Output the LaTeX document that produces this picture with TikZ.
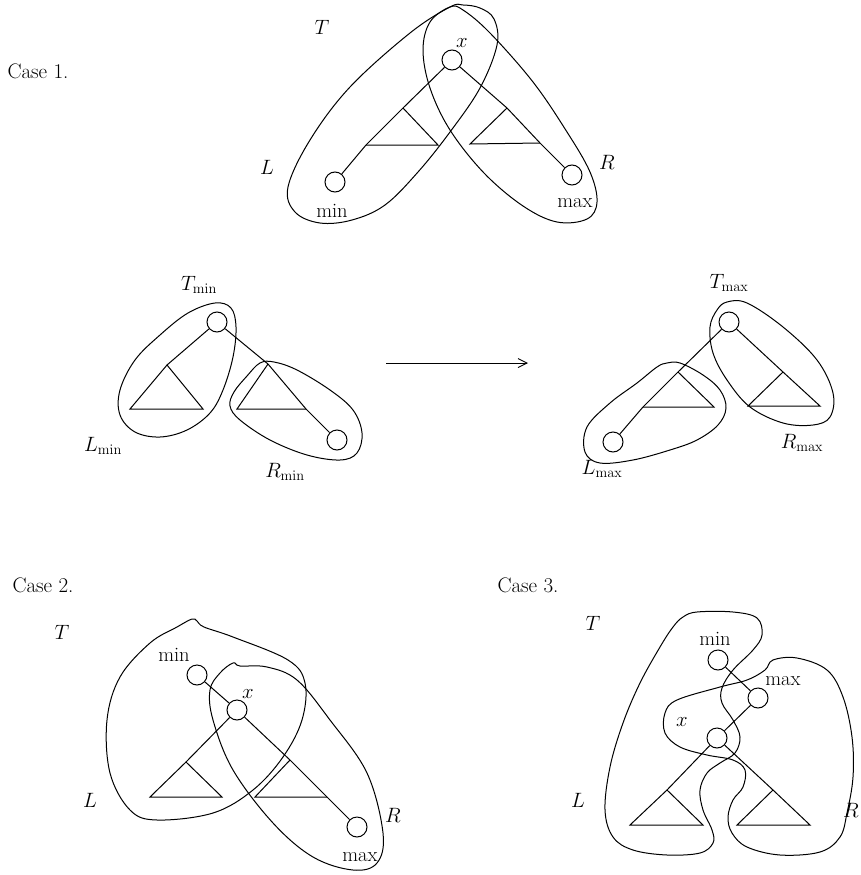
\documentclass[tikz,border=0pt]{standalone}
\usetikzlibrary{arrows.meta}
\begin{document}
\begin{tikzpicture}[x=1pt,y=-1pt,
  every node/.style={font=\fontsize{20.5}{24}\selectfont},
  vert/.style={draw,circle,minimum size=20pt,inner sep=0pt,line width=1pt},
  edge/.style={line width=1pt},
  sub/.style={line width=1pt},
  blob/.style={line width=1pt,smooth cycle,tension=0.6},
  lab/.style={inner sep=0pt},
  caselab/.style={inner sep=0pt,font=\fontsize{21}{25}\selectfont}]
\useasboundingbox (0,0) rectangle (860,875);

% ---------------- Case 1 ----------------
\node[caselab] (c1) at (38,71) {Case 1.};
\node[lab] (T1) at (322,27) {$T$};
\node[lab] (L1) at (267,167) {$L$};
\node[lab] (R1) at (607,162) {$R$};
\node[vert] (x1) at (452,60) {};
\node[lab] (x1l) at (462,43) {$x$};
\node[vert] (min1) at (335,182) {};
\node[lab] (min1l) at (332,211) {min};
\node[vert] (max1) at (572,175) {};
\node[lab] (max1l) at (575,203) {max};
\coordinate (a1l) at (403,108); \coordinate (b1l) at (366,145); \coordinate (c1l) at (438,145);
\coordinate (a1r) at (507,108); \coordinate (b1r) at (470,144); \coordinate (c1r) at (540,143);
\draw[edge] (x1) -- (a1l) -- (b1l) -- (min1);
\draw[edge] (x1) -- (a1r) -- (c1r) -- (max1);
\draw[sub] (a1l) -- (c1l) -- (b1l);
\draw[sub] (a1r) -- (b1r) -- (c1r);
\draw[blob] plot coordinates {(450,7) (410,33) (350,87) (310,140) (288,187) (295,212) (320,223) (352,220) (385,205) (418,172) (450,132) (480,88) (497,45) (494,19) (480,8) (463,5)};
\draw[blob] plot coordinates {(450,7) (430,22) (423,50) (430,88) (450,130) (484,173) (523,206) (557,222) (587,219) (597,202) (590,172) (567,132) (533,82) (490,33) (463,10)};

% ---------------- middle left ----------------
\node[lab] (Tmin) at (199,285) {$T_{\mathrm{min}}$};
\node[lab] (Lmin) at (103,446) {$L_{\mathrm{min}}$};
\node[lab] (Rmin) at (285,472) {$R_{\mathrm{min}}$};
\node[vert] (r2) at (217,322) {};
\node[vert] (m2) at (337,440) {};
\coordinate (a2l) at (167,365); \coordinate (b2l) at (130,409); \coordinate (c2l) at (203,409);
\coordinate (a2r) at (268,364); \coordinate (b2r) at (237,409); \coordinate (c2r) at (306,409);
\draw[edge] (r2) -- (a2l);
\draw[edge] (r2) -- (a2r) -- (c2r) -- (m2);
\draw[sub] (a2l) -- (b2l) -- (c2l) -- cycle;
\draw[sub] (a2r) -- (b2r) -- (c2r);
\draw[blob] plot coordinates {(215,303) (231,308) (236,327) (233,357) (223,390) (210,413) (187,430) (160,437) (135,432) (120,415) (120,390) (135,360) (160,335) (188,313)};
\draw[blob] plot coordinates {(260,363) (274,362) (297,370) (330,390) (353,410) (362,433) (357,453) (340,460) (307,455) (270,440) (240,420) (230,406) (234,392) (247,376)};

% arrow
\coordinate (ar1) at (386,363);
\coordinate (ar2) at (528,363);
\draw[line width=0.9pt,-{Straight Barb[length=9pt,width=9pt]}] (ar1) -- (ar2);

% ---------------- middle right ----------------
\node[lab] (Tmax) at (729,283) {$T_{\mathrm{max}}$};
\node[lab] (Lmax) at (602,469) {$L_{\mathrm{max}}$};
\node[lab] (Rmax) at (802,443) {$R_{\mathrm{max}}$};
\node[vert] (r3) at (729,322) {};
\node[vert] (m3) at (613,442) {};
\coordinate (a3l) at (678,372); \coordinate (b3l) at (643,407); \coordinate (c3l) at (714,407);
\coordinate (a3r) at (783,372); \coordinate (b3r) at (748,406); \coordinate (c3r) at (820,406);
\draw[edge] (r3) -- (a3l) -- (b3l) -- (m3);
\draw[edge] (r3) -- (a3r);
\draw[sub] (a3l) -- (c3l) -- (b3l);
\draw[sub] (a3r) -- (b3r) -- (c3r) -- cycle;
\draw[blob] plot coordinates {(727,302) (747,303) (783,327) (817,360) (833,393) (830,417) (813,425) (783,423) (750,407) (727,380) (713,353) (710,327) (717,310)};
\draw[blob] plot coordinates {(667,363) (680,363) (703,375) (720,390) (726,408) (718,425) (697,440) (670,450) (633,460) (600,463) (585,452) (587,427) (610,403) (637,383) (657,367)};

% ---------------- Case 2 ----------------
\node[caselab] (c2) at (43,585) {Case 2.};
\node[lab] (T2) at (62,632) {$T$};
\node[lab] (L2) at (90,800) {$L$};
\node[lab] (R2) at (393,815) {$R$};
\node[vert] (min2) at (197,675) {};
\node[lab] (min2l) at (174,655) {min};
\node[vert] (x2) at (237,710) {};
\node[lab] (x2l) at (248,694) {$x$};
\node[vert] (max2) at (357,827) {};
\node[lab] (max2l) at (360,857) {max};
\coordinate (a4l) at (186,762); \coordinate (b4l) at (150,797); \coordinate (c4l) at (222,797);
\coordinate (a4r) at (290,760); \coordinate (b4r) at (255,797); \coordinate (c4r) at (327,797);
\draw[edge] (min2) -- (x2);
\draw[edge] (x2) -- (a4l);
\draw[edge] (x2) -- (a4r) -- (c4r) -- (max2);
\draw[sub] (a4l) -- (b4l) -- (c4l) -- cycle;
\draw[sub] (a4r) -- (b4r) -- (c4r);
\draw[blob] plot coordinates {(197,621) (204,627) (233,637) (288,660) (305,683) (302,720) (283,757) (253,790) (213,813) (157,820) (130,810) (110,773) (107,720) (120,677) (150,643) (177,627) (192,619)};
\draw[blob] plot coordinates {(233,663) (240,666) (267,667) (297,680) (330,720) (367,773) (383,833) (377,863) (353,870) (313,857) (273,823) (233,770) (213,720) (210,690) (220,673)};

% ---------------- Case 3 ----------------
\node[caselab] (c3) at (528,585) {Case 3.};
\node[lab] (T3) at (593,623) {$T$};
\node[lab] (L3) at (578,800) {$L$};
\node[lab] (R3) at (851,810) {$R$};
\node[vert] (min3) at (718,660) {};
\node[lab] (min3l) at (715,639) {min};
\node[vert] (max3) at (758,698) {};
\node[lab] (max3l) at (783,681) {max};
\node[vert] (x3) at (717,738) {};
\node[lab] (x3l) at (682,722) {$x$};
\coordinate (a5l) at (667,790); \coordinate (b5l) at (630,825); \coordinate (c5l) at (703,825);
\coordinate (a5r) at (773,790); \coordinate (b5r) at (737,825); \coordinate (c5r) at (810,825);
\draw[edge] (min3) -- (max3);
\draw[edge] (max3) -- (x3);
\draw[edge] (x3) -- (a5l);
\draw[edge] (x3) -- (a5r);
\draw[sub] (a5l) -- (b5l) -- (c5l) -- cycle;
\draw[sub] (a5r) -- (b5r) -- (c5r) -- cycle;
\draw[blob] plot coordinates {(683,617) (697,612) (733,612) (757,618) (762,635) (753,650) (733,670) (722,688) (722,703) (733,720) (740,737) (735,753) (720,763) (707,773) (700,790) (703,810) (712,830) (713,843) (700,853) (667,855) (633,850) (613,837) (605,810) (610,767) (623,723) (640,683) (660,647) (673,627)};
\draw[blob] plot coordinates {(677,700) (720,687) (747,680) (765,670) (773,660) (797,658) (827,670) (843,697) (852,737) (853,777) (847,813) (840,837) (820,852) (780,855) (747,847) (732,833) (728,817) (733,800) (743,787) (745,770) (733,760) (707,755) (680,747) (665,733) (665,713)};
\end{tikzpicture}
\end{document}
